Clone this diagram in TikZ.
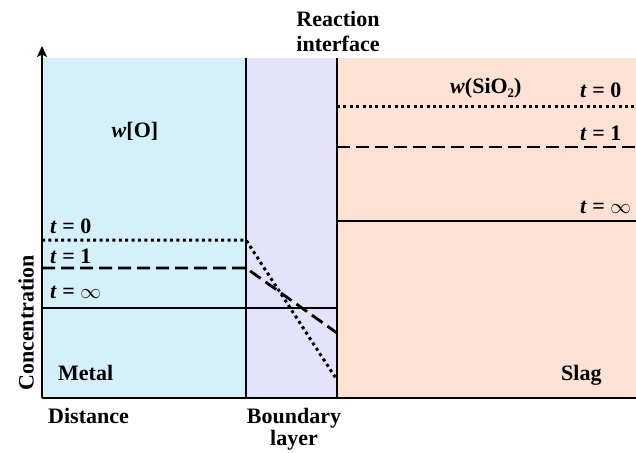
\documentclass[tikz,border=0pt]{standalone}
\usepackage{fontspec}
\setmainfont{Liberation Serif}
\usetikzlibrary{arrows.meta}
\definecolor{metalc}{HTML}{D4F1FB}
\definecolor{bndc}{HTML}{E3E3FB}
\definecolor{slagc}{HTML}{FDE2D4}
\begin{document}
\begin{tikzpicture}[x=1pt,y=-1pt,
  lbl/.style={font=\fontsize{22}{26}\selectfont\bfseries, inner sep=0pt},
  tl/.style={lbl, anchor=base west},
  wall/.style={line width=2.8pt},
  cdot/.style={line width=3pt, dash pattern=on 3pt off 3.4pt},
  cdash/.style={line width=2.8pt, dash pattern=on 13pt off 6pt},
  csolid/.style={line width=2.6pt}]
\useasboundingbox (0,0) rectangle (636,452);
% regions
\fill[metalc] (42,58) rectangle (246,397);
\fill[bndc] (246,58) rectangle (337,397);
\fill[slagc] (337,58) rectangle (636,397);
% coordinates
\coordinate (o) at (42,398);
\coordinate (top) at (42,46);
\coordinate (xr) at (636,398);
\coordinate (bt) at (246,58);
\coordinate (bb) at (246,397);
\coordinate (it) at (337,58);
\coordinate (ib) at (337,397);
\coordinate (m0a) at (42,240);  \coordinate (m0b) at (246,240);
\coordinate (m1a) at (42,268);  \coordinate (m1b) at (246,268);
\coordinate (mia) at (42,308);  \coordinate (mib) at (337,308);
\coordinate (b0) at (337,380);
\coordinate (b1) at (337,333);
\coordinate (s0a) at (337,106); \coordinate (s0b) at (636,106);
\coordinate (s1a) at (337,147); \coordinate (s1b) at (636,147);
\coordinate (sia) at (337,221); \coordinate (sib) at (636,221);
% concentration lines
\draw[cdot] (m0a) -- (m0b) -- (b0);
\draw[cdash] (m1a) -- (m1b) -- (b1);
\draw[csolid] (mia) -- (mib);
\draw[cdot] (s0a) -- (s0b);
\draw[cdash] (s1a) -- (s1b);
\draw[csolid] (sia) -- (sib);
% walls and axes
\draw[wall] (bt) -- (bb);
\draw[wall] (it) -- (ib);
\draw[wall] (xr) -- (o);
\draw[wall, -{Stealth[length=11pt,width=10pt,inset=2.5pt]}] (o) -- (top);
% labels
\node[lbl, anchor=base] (r1) at (338,27) {Reaction};
\node[lbl, anchor=base] (r2) at (338,52) {interface};
\node[lbl, anchor=base] (wo) at (135,137) {\textit{w}[O]};
\node[lbl, anchor=base west] (ws) at (450,93) {\textit{w}(SiO\raisebox{-4pt}{\fontsize{13}{13}\selectfont 2})};
\node[tl] (mt0) at (50,233) {\textit{t} = 0};
\node[tl] (mt1) at (50,263) {\textit{t} = 1};
\node[tl] (mti) at (50,298) {\textit{t} = $\infty$};
\node[tl] (st0) at (580,97) {\textit{t} = 0};
\node[tl] (st1) at (580,140) {\textit{t} = 1};
\node[tl] (sti) at (580,213) {\textit{t} = $\infty$};
\node[tl] (metal) at (58,380) {Metal};
\node[tl] (slag) at (561,380) {Slag};
\node[tl] (dist) at (48,423) {Distance};
\node[lbl, anchor=base] (bl1) at (294,423) {Boundary};
\node[lbl, anchor=base] (bl2) at (294,445) {layer};
\node[lbl, rotate=90] (conc) at (26,323) {Concentration};
\end{tikzpicture}
\end{document}
